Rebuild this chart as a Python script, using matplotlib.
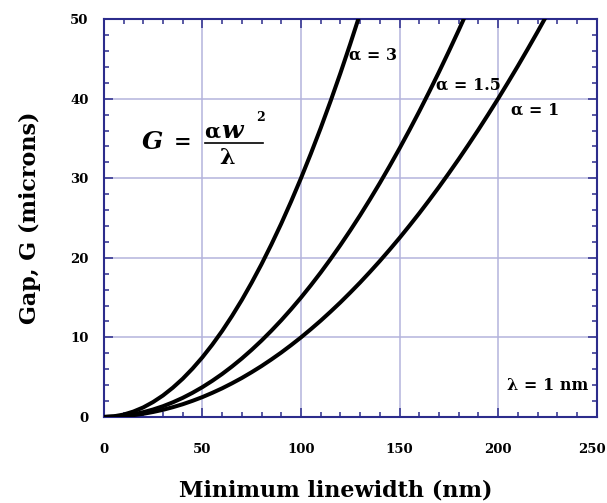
import matplotlib
matplotlib.use("Agg")
import matplotlib.pyplot as plt
import matplotlib.transforms as mtransforms
from matplotlib.ticker import MultipleLocator
from matplotlib.lines import Line2D

# linewidth (nm) and gap (microns), lambda = 1 nm
width_nm = [0, 5, 10, 15, 20, 25, 30, 35, 40, 45, 50, 55, 60, 65, 70, 75,
            80, 85, 90, 95, 100, 105, 110, 115, 120, 125, 130, 135, 140,
            145, 150, 155, 160, 165, 170, 175, 180, 185, 190, 195, 200,
            205, 210, 215, 220, 225, 230]
gap_a1 = [0, 0.03, 0.1, 0.23, 0.4, 0.63, 0.9, 1.23, 1.6, 2.03, 2.5, 3.03,
          3.6, 4.23, 4.9, 5.63, 6.4, 7.23, 8.1, 9.03, 10, 11.03, 12.1,
          13.23, 14.4, 15.63, 16.9, 18.23, 19.6, 21.03, 22.5, 24.03, 25.6,
          27.23, 28.9, 30.63, 32.4, 34.23, 36.1, 38.03, 40, 42.03, 44.1,
          46.23, 48.4, 50.63, 52.9]
gap_a15 = [0, 0.04, 0.15, 0.34, 0.6, 0.94, 1.35, 1.84, 2.4, 3.04, 3.75,
           4.54, 5.4, 6.34, 7.35, 8.44, 9.6, 10.84, 12.15, 13.54, 15,
           16.54, 18.15, 19.84, 21.6, 23.44, 25.35, 27.34, 29.4, 31.54,
           33.75, 36.04, 38.4, 40.84, 43.35, 45.94, 48.6, 51.34]
gap_a3 = [0, 0.08, 0.3, 0.68, 1.2, 1.88, 2.7, 3.68, 4.8, 6.08, 7.5, 9.08,
          10.8, 12.68, 14.7, 16.88, 19.2, 21.68, 24.3, 27.08, 30, 33.08,
          36.3, 39.68, 43.2, 46.88, 50.7]
x_ticks = [0, 50, 100, 150, 200, 250]
y_ticks = [0, 10, 20, 30, 40, 50]

NAVY = "#2c2c8c"
GRID = "#b4b4dc"
FONT = "DejaVu Serif"

fig = plt.figure(figsize=(6.07, 5.03), dpi=100)
ax = fig.add_axes([0.171, 0.171, 0.812, 0.791])

for g in (gap_a1, gap_a15, gap_a3):
    ax.plot(width_nm[:len(g)], g, color="black", lw=2.9,
            solid_capstyle="round", zorder=3)

ax.set_xlim(0, 250)
ax.set_ylim(0, 50)
ax.set_xticks(x_ticks)
ax.set_yticks(y_ticks)
ax.xaxis.set_minor_locator(MultipleLocator(10))
ax.yaxis.set_minor_locator(MultipleLocator(2))
ax.grid(True, which="major", color=GRID, lw=1.1, zorder=0)

for s in ax.spines.values():
    s.set_color(NAVY)
    s.set_linewidth(1.5)
ax.tick_params(which="both", direction="in", top=True, right=True,
               color=NAVY, width=1.1)
ax.tick_params(which="major", length=6.5)
ax.tick_params(which="minor", length=3.5)
ax.tick_params(axis="x", which="major", pad=19)
ax.tick_params(axis="y", which="major", pad=11)
for lab in ax.get_xticklabels() + ax.get_yticklabels():
    lab.set_fontfamily(FONT)
    lab.set_fontweight("bold")
    lab.set_fontsize(9.5)

# the 250 label sits at the figure edge, nudge it in a little
last = ax.xaxis.get_major_ticks()[len(x_ticks) - 1].label1
last.set_transform(last.get_transform() +
                   mtransforms.ScaledTranslation(-5 / 100, 0, fig.dpi_scale_trans))

ax.set_xlabel("Minimum linewidth (nm)", family=FONT, weight="bold",
              fontsize=16)
ax.xaxis.set_label_coords(0.47, -0.2)
ax.xaxis.label.set_verticalalignment("baseline")
ax.set_ylabel("Gap, G (microns)", family=FONT, weight="bold",
              fontsize=16, labelpad=21)

lbl = dict(family=FONT, weight="bold", fontsize=11.5, va="center", zorder=4)
ax.text(124.5, 45.5, "\u03b1 = 3", ha="left", **lbl)
ax.text(168.5, 41.7, "\u03b1 = 1.5", ha="left", **lbl)
ax.text(206.5, 38.6, "\u03b1 = 1", ha="left", **lbl)
ax.text(245.5, 3.9, "\u03bb = 1 nm", ha="right", **lbl)

# formula G = alpha w^2 / lambda
ax.text(19.3, 34.5, "G", family=FONT, weight="bold", style="italic",
        fontsize=18, va="center", ha="left")
ax.text(35.5, 34.5, "=", family=FONT, weight="bold", fontsize=15,
        va="center", ha="left")
ax.text(51.0, 35.9, "\u03b1", family=FONT, weight="bold", fontsize=15,
        va="center", ha="left")
ax.text(59.5, 35.9, "w", family=FONT, weight="bold", style="italic",
        fontsize=18, va="center", ha="left")
ax.text(77.5, 37.6, "2", family=FONT, weight="bold", fontsize=9,
        va="center", ha="left")
ax.text(62.5, 32.6, "\u03bb", family=FONT, weight="bold", fontsize=16,
        va="center", ha="center")
ax.add_line(Line2D([51.2, 80.6], [34.4, 34.4], color="black", lw=1.2))

fig.savefig("out.png", dpi=100)
